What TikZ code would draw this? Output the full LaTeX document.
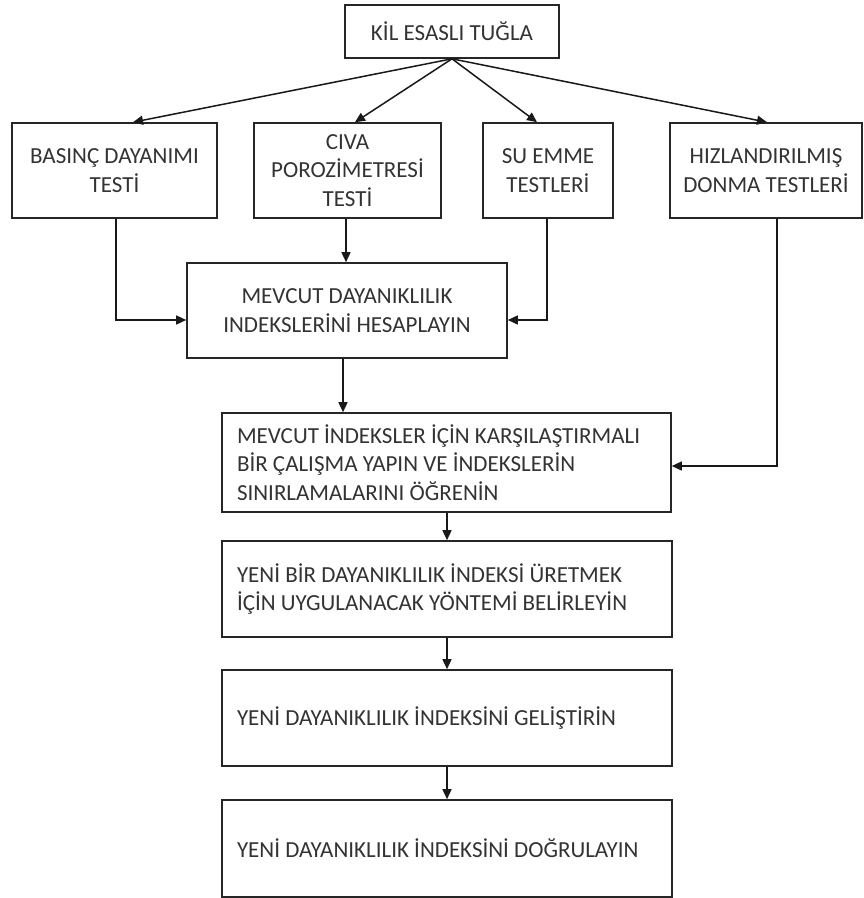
\documentclass[tikz,border=0pt]{standalone}
\usepackage{fontspec}
\setmainfont{Carlito}
\usetikzlibrary{arrows.meta}
\begin{document}
\begin{tikzpicture}[x=1pt,y=-1pt,
  box/.style={draw=black!85, line width=1.6pt, inner sep=0pt, text=black!80,
    font=\fontsize{23}{28.5}\selectfont, align=center},
  lbox/.style={box, align=flush left, inner xsep=15pt, text width=#1},
  arr/.style={draw=black!90, line width=1.5pt, -{Triangle[length=10pt,width=9pt]}}]
\useasboundingbox (0,0) rectangle (864,898);
\fill[white] (0,0) rectangle (864,898);
% nodes
\node[box, minimum width=214pt, minimum height=53pt] (top) at (452,31.5) {KİL ESASLI TUĞLA};
\node[box, minimum width=205pt, minimum height=95pt] (b1) at (114.5,170.5) {BASINÇ DAYANIMI\\TESTİ};
\node[box, minimum width=187pt, minimum height=95pt] (b2) at (347.5,170.5) {CIVA\\POROZİMETRESİ\\TESTİ};
\node[box, minimum width=130pt, minimum height=95pt] (b3) at (548,170.5) {SU EMME\\TESTLERİ};
\node[box, minimum width=192pt, minimum height=95pt] (b4) at (766,170.5) {HIZLANDIRILMIŞ\\DONMA TESTLERİ};
\node[box, minimum width=320pt, minimum height=95pt] (m) at (347,310.5) {MEVCUT DAYANIKLILIK\\INDEKSLERİNİ HESAPLAYIN};
\node[lbox=419pt, minimum height=99pt] (b5) at (446.5,462.5) {MEVCUT İNDEKSLER İÇİN KARŞILAŞTIRMALI\\BİR ÇALIŞMA YAPIN VE İNDEKSLERİN\\SINIRLAMALARINI ÖĞRENİN};
\node[lbox=420pt, minimum height=96pt] (b6) at (447,589) {YENİ BİR DAYANIKLILIK İNDEKSİ ÜRETMEK\\İÇİN UYGULANACAK YÖNTEMİ BELİRLEYİN};
\node[lbox=420pt, minimum height=96pt] (b7) at (447,718) {YENİ DAYANIKLILIK İNDEKSİNİ GELİŞTİRİN};
\node[lbox=420pt, minimum height=97pt] (b8) at (447,848.5) {YENİ DAYANIKLILIK İNDEKSİNİ DOĞRULAYIN};
% helper coordinates
\coordinate (a1) at (133,0);
\coordinate (a2) at (355,0);
\coordinate (a3) at (537,0);
\coordinate (a4) at (767,0);
\coordinate (e1) at (116,320);
\coordinate (e2) at (346,0);
\coordinate (e3) at (547,320);
\coordinate (e4) at (777,466);
\coordinate (em) at (343,0);
\coordinate (e5) at (447,0);
% connectors
\draw[arr] (top.south) -- (b1.north -| a1);
\draw[arr] (top.south) -- (b2.north -| a2);
\draw[arr] (top.south) -- (b3.north -| a3);
\draw[arr] (top.south) -- (b4.north -| a4);
\draw[arr] (b1.south -| e1) |- (m.west |- e1);
\draw[arr] (b2.south -| e2) -- (m.north -| e2);
\draw[arr] (b3.south -| e3) |- (m.east |- e3);
\draw[arr] (m.south -| em) -- (b5.north -| em);
\draw[arr] (b4.south -| e4) |- (b5.east |- e4);
\draw[arr] (b5.south -| e5) -- (b6.north -| e5);
\draw[arr] (b6.south -| e5) -- (b7.north -| e5);
\draw[arr] (b7.south -| e5) -- (b8.north -| e5);
\end{tikzpicture}
\end{document}
